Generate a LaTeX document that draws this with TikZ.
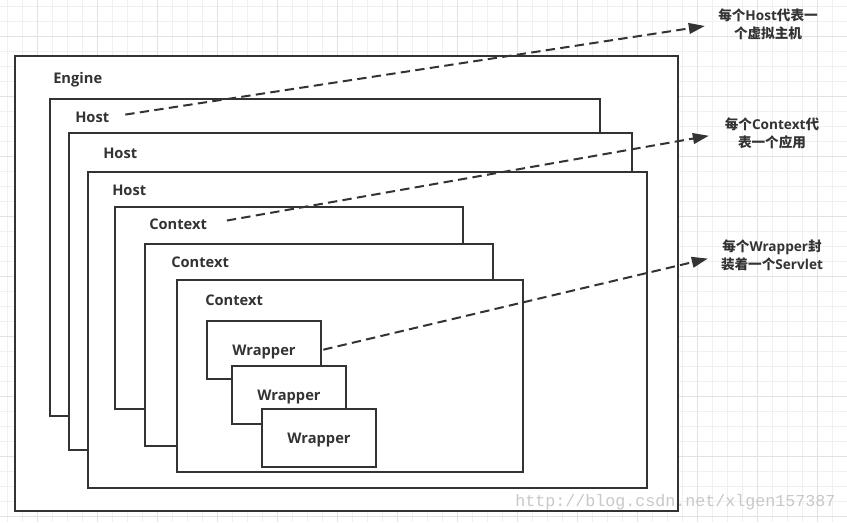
\documentclass[tikz,border=0pt]{standalone}
\usepackage{fontspec}
\setmainfont{Open Sans}
\newfontfamily\cjk{Noto Sans CJK SC}
\newfontfamily\wmfont{Liberation Mono}
\usetikzlibrary{arrows.meta}
\definecolor{ink}{HTML}{333333}
\definecolor{gmin}{HTML}{F0F0F0}
\definecolor{gmaj}{HTML}{E2E2E2}
\definecolor{wmc}{HTML}{C8C8C8}
\begin{document}
\begin{tikzpicture}[x=0.75pt,y=-0.75pt,
  box/.style={draw=ink,fill=white,line width=1.5pt},
  lbl/.style={font=\fontsize{11}{13}\selectfont\bfseries,text=ink,inner sep=0pt,anchor=west,text height=7.8pt,text depth=0pt},
  wbox/.style={box,minimum width=85.5pt,minimum height=43.5pt,inner sep=0pt,font=\fontsize{11}{13}\selectfont\bfseries,text=ink,text height=7.8pt,text depth=0pt},
  note/.style={font=\fontsize{10.2}{13.5}\selectfont\bfseries,text=ink,align=center,inner sep=0pt},
  conn/.style={draw=ink,line width=1.5pt,dash pattern=on 7pt off 4pt,-{Triangle[length=12pt,width=8pt]}},
  gminor/.style={draw=gmin,line width=0.75pt},
  gmajor/.style={draw=gmaj,line width=0.75pt}
]
\useasboundingbox (0,0) rectangle (847,522);
\fill[white] (0,0) rectangle (847,522);
% grid
\foreach \x in {7,22,...,847} \draw[gminor] (\x,0) -- (\x,522);
\foreach \y in {6,21,...,522} \draw[gminor] (0,\y) -- (847,\y);
\foreach \x in {37,97,...,847} \draw[gmajor] (\x,0) -- (\x,522);
\foreach \y in {36,96,...,522} \draw[gmajor] (0,\y) -- (847,\y);
% containers
\draw[box] (15,56) rectangle (678,511);
\node[lbl] (engineL) at (53,78) {Engine};
\draw[box] (50,99) rectangle (600,416);
\node[lbl] (host1L) at (75,117) {Host};
\draw[box] (69,133) rectangle (632,450);
\node[lbl] (host2L) at (103,153) {Host};
\draw[box] (88,172) rectangle (647,488);
\node[lbl] (host3L) at (112,190) {Host};
\draw[box] (115,207) rectangle (463,409);
\node[lbl] (ctx1L) at (149,224) {Context};
\draw[box] (145,244) rectangle (493,446);
\node[lbl] (ctx2L) at (171,262) {Context};
\draw[box] (177,280) rectangle (523,472);
\node[lbl] (ctx3L) at (205,300) {Context};
\node[wbox] (w1) at (264,350) {Wrapper};
\node[wbox] (w2) at (289,395) {Wrapper};
\node[wbox] (w3) at (319,438) {Wrapper};
% notes
\node[note] (n1) at (768,24) {{\cjk 每个}Host{\cjk 代表一}\\{\cjk 个虚拟主机}};
\node[note] (n2) at (772,133) {{\cjk 每个}Context{\cjk 代}\\{\cjk 表一个应用}};
\node[note] (n3) at (772,255.5) {{\cjk 每个}Wrapper{\cjk 封}\\{\cjk 装着一个}Servlet};
% connectors
\draw[conn,shorten <=12pt,shorten >=10pt] (host1L.east) -- (n1.west);
\draw[conn,shorten <=15pt,shorten >=12pt] (ctx1L.east) -- (n2.west);
\draw[conn,shorten <=1pt,shorten >=10pt] (w1.east) -- (n3.west);
% watermark
\node[font=\wmfont\fontsize{12.5}{14}\selectfont,text=wmc,anchor=west,inner sep=0pt] (wm) at (515,502) {http://blog.csdn.net/xlgen157387};
\end{tikzpicture}
\end{document}
